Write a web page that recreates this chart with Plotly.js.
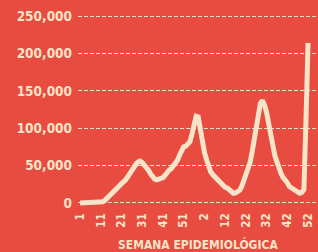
<!DOCTYPE html>
<html>
<head>
<meta charset="utf-8">
<script src="https://cdn.plot.ly/plotly-3.0.1.min.js"></script>
<style>
html,body{margin:0;padding:0;background:#e84b3f;}
#chart{width:318px;height:252px;}
</style>
</head>
<body>
<div id="chart"></div>
<script>
// Weekly values (index = week position along the axis)
const weekIndex = [];
const cases = [
  0, 0, 0, 0, 0, 0, 0, 0, 0, 100,
  400, 1500, 3500, 6000, 8500, 11000, 13500, 17000, 20000, 23000,
  26000, 28000, 31000, 35000, 40000, 44000, 48000, 52000, 55000, 56000,
  54000, 51000, 48000, 44000, 39000, 35000, 32000, 31000, 31500, 33000,
  34000, 37000, 41000, 44000, 46000, 49000, 52000, 57000, 64000, 72000,
  75000, 76000, 78000, 82000, 92000, 105000, 116000, 115000, 98000, 78000,
  68000, 58000, 48000, 42000, 38000, 35000, 31000, 28000, 26000, 24000,
  21000, 20000, 18000, 15000, 13000, 13500, 15000, 17000, 22000, 29000,
  37000, 45000, 54000, 68000, 86000, 106000, 122000, 133000, 137000, 131000,
  121000, 105000, 88000, 75000, 63000, 55000, 45000, 39000, 34000, 31000,
  27000, 22000, 20000, 18000, 16000, 14000, 13000, 14000, 18000, 110000,
  214000
];
for (let i = 0; i < cases.length; i++) weekIndex.push(i);

const xTickVals = [0, 10, 20, 30, 40, 50, 60, 70, 80, 90, 100, 110];
const xTickText = ['1', '11', '21', '31', '41', '51', '2', '12', '22', '32', '42', '52'];
const yTickVals = [0, 50000, 100000, 150000, 200000, 250000];
const xTitle = 'SEMANA EPIDEMIOLÓGICA';

const cream = '#f6e4c8';
const bg = '#e84b3f';
const font = '"DejaVu Sans Condensed", "Liberation Sans Narrow", "Arial Narrow", sans-serif';

const trace = {
  x: weekIndex,
  y: cases,
  type: 'scatter',
  mode: 'lines',
  line: {color: cream, width: 5, shape: 'linear'},
  hoverinfo: 'skip'
};

const layout = {
  width: 318,
  height: 252,
  margin: {l: 78, r: 0, t: 0, b: 42, pad: 0},
  paper_bgcolor: bg,
  plot_bgcolor: bg,
  showlegend: false,
  xaxis: {
    range: [-1, 114.8],
    tickvals: xTickVals,
    ticktext: xTickText,
    tickangle: -90,
    tickfont: {family: font, size: 11.5, color: cream, weight: 'bold'},
    showgrid: false,
    zeroline: false,
    showline: false,
    ticks: '',
    fixedrange: true
  },
  yaxis: {
    range: [-9400, 271400],
    tickvals: yTickVals,
    tickformat: ',d',
    tickfont: {family: font, size: 13.5, color: cream, weight: 'bold'},
    showgrid: true,
    gridcolor: cream,
    gridwidth: 1,
    griddash: '4px,2px',
    zeroline: false,
    showline: false,
    ticks: '',
    ticklabelstandoff: 5,
    fixedrange: true
  },
  annotations: [{
    text: xTitle,
    xref: 'paper', yref: 'paper',
    x: 0.5, y: -0.162,
    xanchor: 'center', yanchor: 'middle',
    showarrow: false,
    font: {family: font, size: 12, color: cream, weight: 'bold'}
  }]
};

Plotly.newPlot('chart', [trace], layout, {staticPlot: true, displayModeBar: false});
</script>
</body>
</html>
